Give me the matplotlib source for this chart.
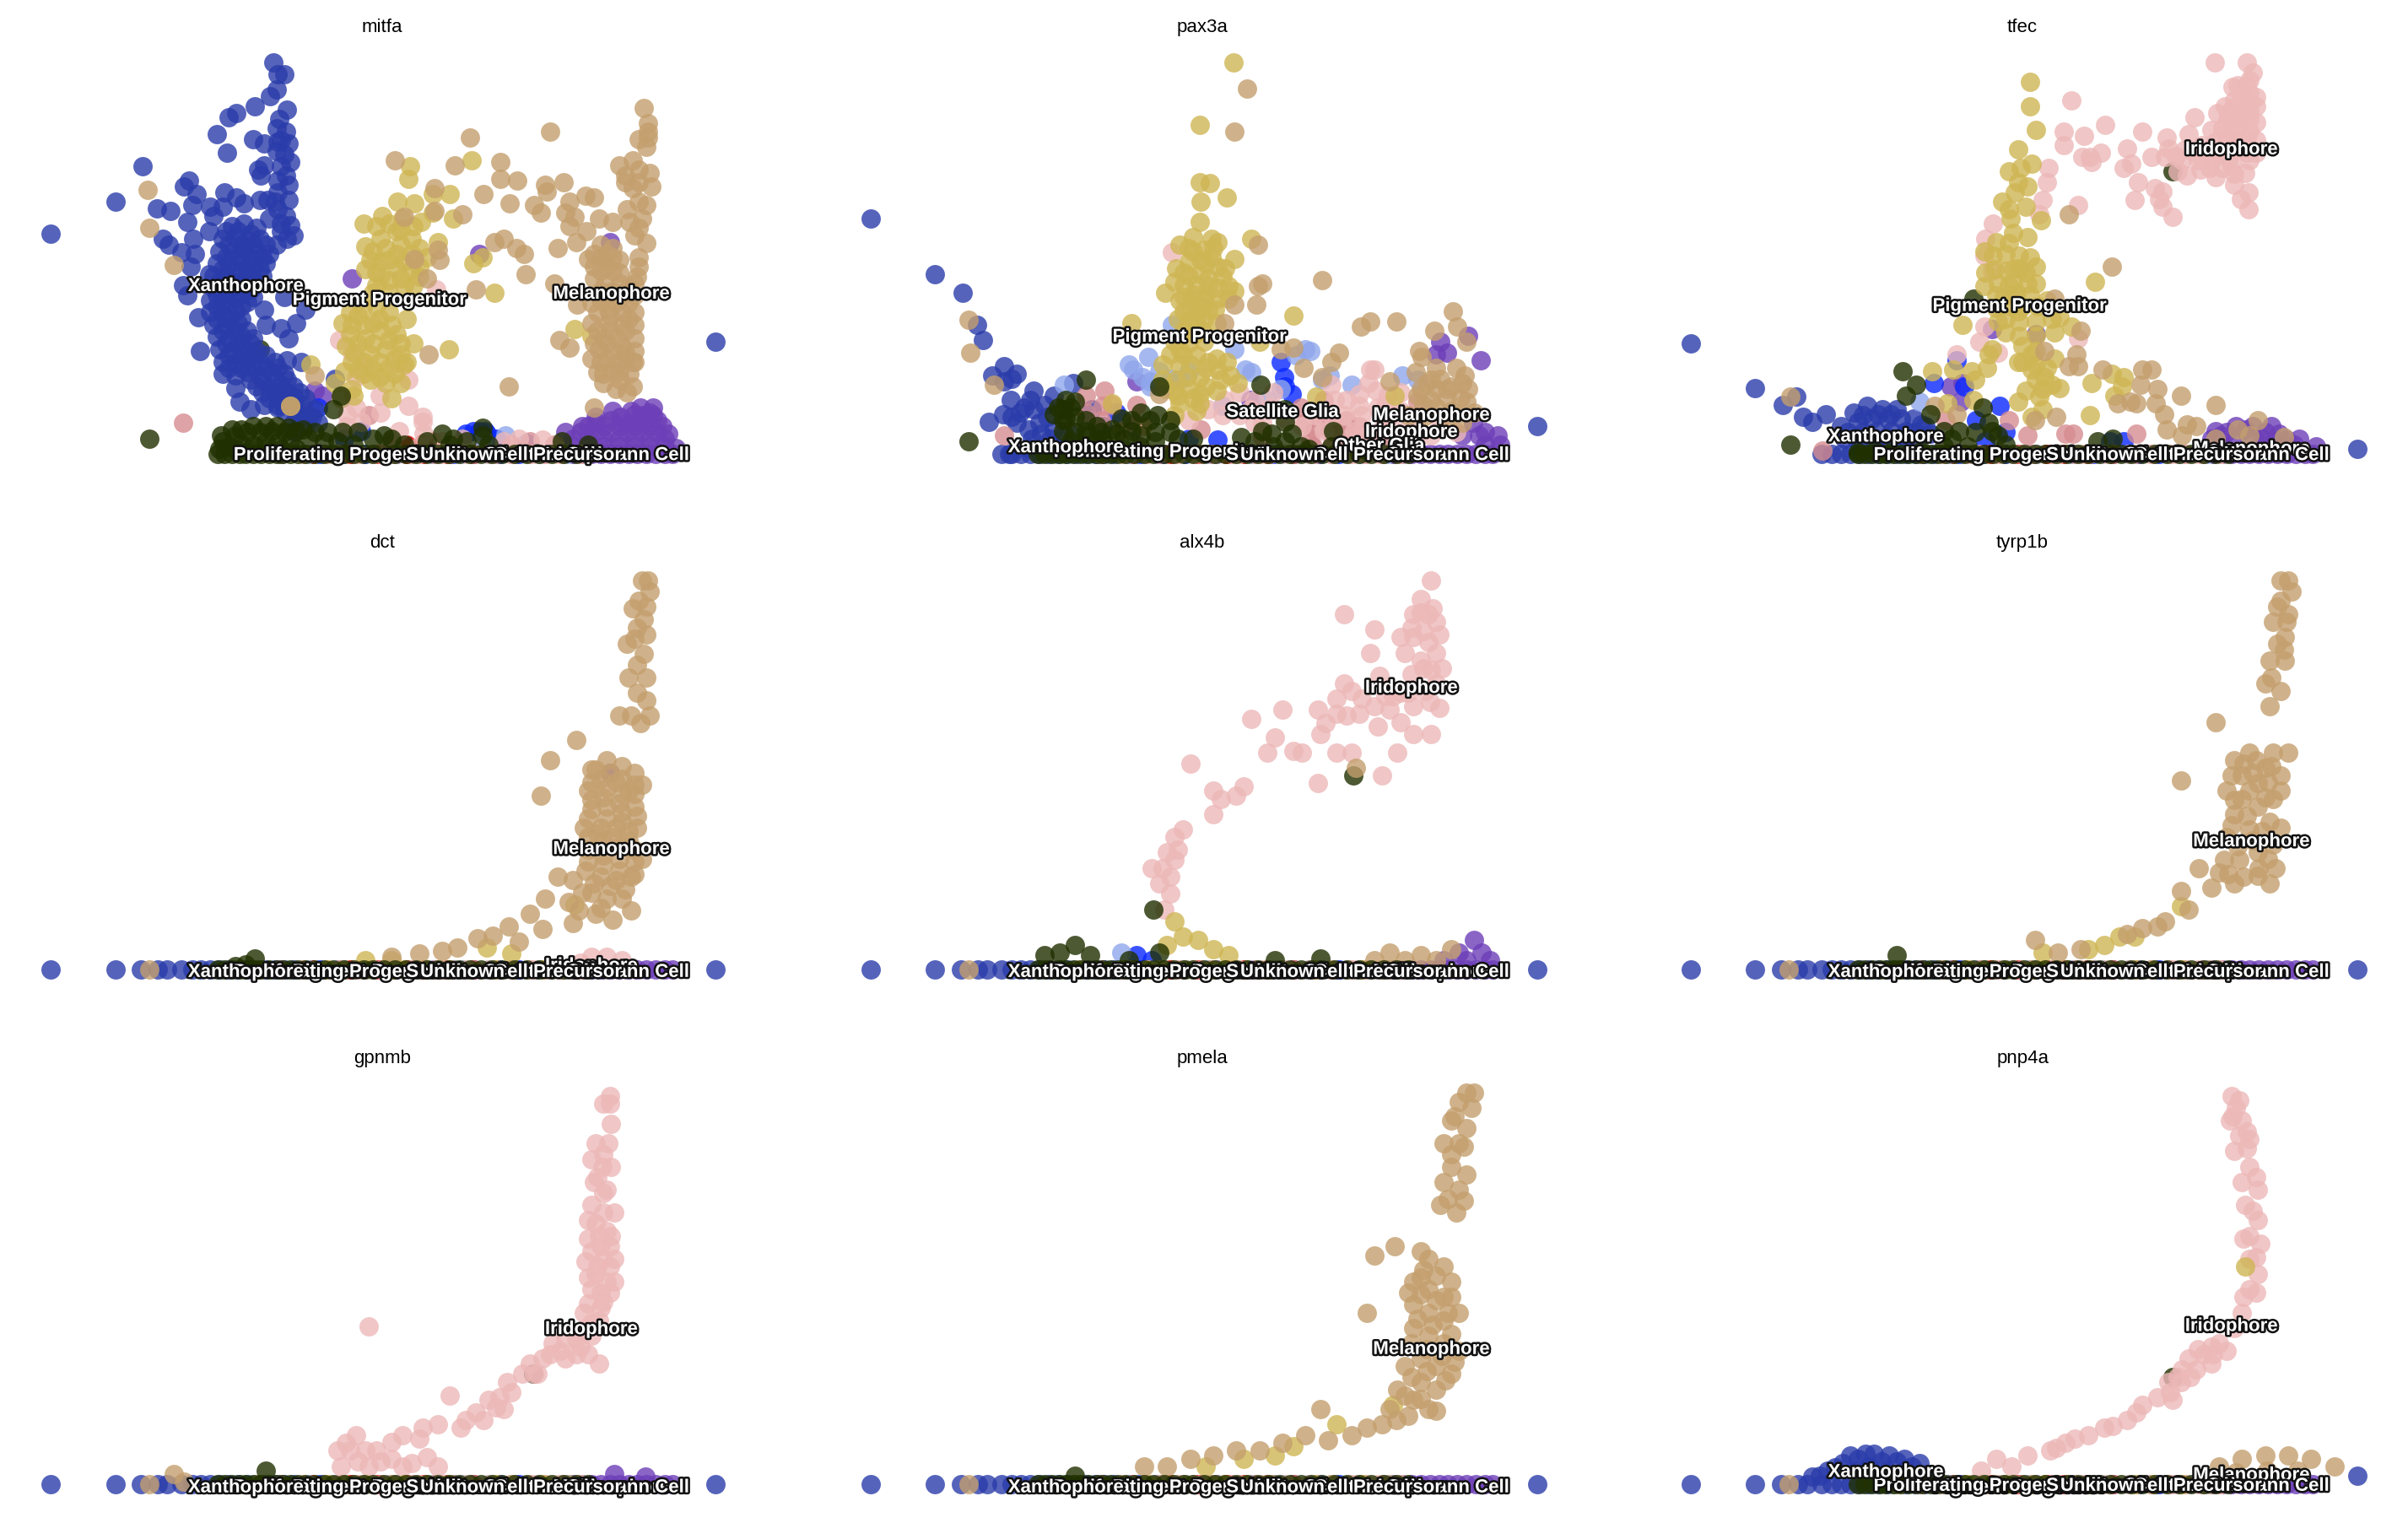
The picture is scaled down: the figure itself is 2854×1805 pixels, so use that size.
import matplotlib
matplotlib.use("Agg")
import matplotlib.pyplot as plt
import matplotlib.patheffects as pe

plt.rcParams['font.family'] = ['Liberation Sans', 'DejaVu Sans']

GENES = ["mitfa", "pax3a", "tfec", "dct", "alx4b", "tyrp1b", "gpnmb", "pmela", "pnp4a"]

# colours by cell type
COLORS = {
    "Schwann Cell": "#6D3FB8",
    "Satellite Glia": "#0A28FF",
    "Unknown": "#E00000",
    "Xanthophore": "#2A3CAA",
    "Other Glia": "#8FA6EC",
    "Schwann Cell Precursor": "#D68C90",
    "Iridophore": "#EDB8B8",
    "Pigment Progenitor": "#CFB654",
    "Melanophore": "#C49F6E",
    "Proliferating Progenitor": "#203000",
}

# cells sitting on the zero line, x only
ZERO_XAN_LEFT = [0, 42, 59, 70, 76]
ZERO_XAN = [85, 92, 98, 104, 110, 116, 122, 128, 134, 140, 146, 152, 158]
ZERO_PRO = [109, 113, 118, 123, 127, 132, 137, 142, 147, 151, 156, 161, 166, 172, 178, 184, 191, 197, 204, 210,
            217, 224, 231, 238, 245, 252, 259, 266, 273, 280, 287, 294, 302, 310, 318, 326, 334, 342, 350]
ZERO_SCH = [340, 346, 352, 358, 364, 370, 376, 382, 388, 394, 400, 405]
ZERO_SCP = [150, 164, 180, 188, 200, 215, 222, 235, 250, 260, 275, 290, 300, 312, 322, 333, 345]
ZERO_IRI = [200, 210, 225, 240, 255, 270, 285, 300, 315, 330, 345]
ZERO_UNK = [170, 195, 213, 232, 243, 258, 275]
ZERO_SAT = [150, 175, 190, 205, 225, 262, 275, 292, 305]
ZERO_OTH = [168, 186, 220, 248, 268, 285, 300, 318, 336]
ZERO_PIG = [135, 180, 205, 230, 260, 290, 320]
ZERO_MEL = [64, 190, 222, 245, 262, 300, 338]

# mitfa
MITFA_XAN = [(0, 143), (42, 164), (60, 187), (433, 73), (145, 255), (148, 247), (152, 247), (147, 237), (143, 233),
             (133, 226), (121, 222), (116, 219), (154, 224), (149, 218), (108, 208), (115, 196), (132, 205), (139, 202),
             (147, 212), (153, 210), (148, 203), (155, 202), (147, 197), (156, 190), (150, 187), (139, 188), (135, 185),
             (137, 181), (153, 181), (155, 175), (90, 178), (87, 174), (95, 169), (92, 162), (69, 160), (78, 158),
             (89, 151), (104, 161), (113, 170), (121, 167), (126, 163), (112, 161), (106, 155), (136, 165), (141, 165),
             (148, 159), (155, 165), (153, 155), (142, 153), (156, 149), (150, 145), (158, 142), (147, 136), (73, 140),
             (77, 136), (85, 131), (94, 130), (93, 140), (103, 145), (91, 122), (103, 117), (86, 110), (89, 103),
             (96, 89), (97, 67), (166, 94), (160, 85), (150, 82), (139, 94), (152, 102), (140, 84), (155, 75),
             (120, 43), (123, 34), (130, 29), (139, 32), (148, 30), (163, 60), (159, 31), (172, 29), (174, 20), (185, 49),
             (118, 148), (126, 150), (134, 147), (112, 140), (120, 141), (128, 139), (136, 140), (110, 132), (118, 131),
             (126, 133), (134, 131), (142, 130), (108, 124), (116, 123), (124, 125), (132, 123), (140, 124), (106, 116),
             (114, 115), (122, 117), (130, 115), (138, 116), (106, 108), (114, 107), (122, 109), (130, 107), (104, 100),
             (112, 99), (120, 101), (128, 99), (104, 92), (112, 91), (120, 93), (106, 84), (114, 83), (122, 85),
             (108, 76), (116, 75), (124, 77), (132, 75), (110, 68), (118, 67), (126, 69), (134, 67), (112, 60), (120, 59),
             (128, 61), (136, 59), (146, 60), (154, 61), (112, 52), (120, 51), (128, 53), (136, 51), (144, 53), (152, 52),
             (134, 44), (142, 43), (150, 45), (158, 44), (142, 36), (150, 35), (158, 37), (166, 36), (152, 28), (160, 27),
             (168, 24), (158, 20), (166, 19)]
MITFA_XAN += [(114, 145), (122, 145), (130, 143), (116, 136), (124, 136), (132, 136), (140, 136), (114, 128), (122, 128),
              (130, 128), (138, 128), (112, 120), (120, 120), (128, 120), (136, 120), (110, 112), (118, 112), (126, 112),
              (134, 112), (108, 104), (116, 104), (124, 104), (132, 102), (108, 96), (116, 96), (124, 96), (108, 88),
              (116, 88), (124, 88), (112, 80), (120, 80), (128, 80), (114, 72), (122, 72), (130, 72), (116, 64), (124, 64),
              (132, 64), (140, 64), (116, 56), (124, 56), (132, 56), (140, 56), (148, 56), (130, 48), (138, 48), (146, 48),
              (154, 48), (138, 40), (146, 40), (154, 40), (162, 40), (148, 32), (156, 32), (164, 32), (162, 24), (170, 24),
              (148, 178), (148, 170), (152, 195), (150, 204), (146, 164), (150, 150), (154, 140)]
MITFA_PIG = [(234, 187), (233, 179), (260, 169), (249, 169), (226, 164), (237, 163), (216, 155), (204, 150), (229, 153),
             (241, 151), (262, 153), (249, 157), (215, 140), (225, 145), (235, 140), (225, 130), (235, 130), (215, 125),
             (205, 120), (215, 115), (225, 120), (235, 120), (245, 128), (210, 105), (220, 105), (230, 110), (240, 115),
             (205, 135), (200, 90), (210, 85), (220, 92), (195, 78), (205, 75), (215, 80), (225, 78), (232, 88), (198, 66),
             (208, 65), (218, 68), (228, 65), (200, 55), (210, 55), (220, 56), (230, 58), (236, 72), (208, 48), (218, 46),
             (228, 46), (190, 85), (196, 42), (222, 36), (232, 60), (252, 138), (275, 124), (281, 128), (289, 105),
             (259, 68), (341, 81), (274, 191), (169, 58), (197, 38), (191, 54), (352, 77), (185, 46), (156, 31)]
MITFA_PIG += [(212, 148), (220, 150), (228, 146), (236, 148), (210, 132), (218, 134), (228, 136), (240, 134), (208, 126),
              (220, 126), (230, 125), (240, 122), (212, 118), (220, 113), (228, 114), (236, 110), (212, 110), (195, 92),
              (203, 95), (212, 96), (192, 70), (200, 72), (210, 72), (220, 74), (228, 72), (196, 60), (204, 60), (214, 60),
              (224, 62), (204, 52), (214, 50), (224, 52), (196, 84), (204, 84), (214, 88), (222, 84)]
MITFA_MEL = [(386, 225), (389, 215), (389, 210), (389, 206), (383, 205), (388, 200), (325, 210), (273, 206), (224, 191),
             (263, 188), (293, 190), (293, 179), (304, 178), (322, 175), (334, 177), (323, 171), (315, 162), (319, 157),
             (299, 163), (282, 169), (250, 173), (250, 158), (268, 156), (295, 140), (289, 138), (303, 134), (308, 130),
             (309, 117), (277, 107), (252, 133), (253, 126), (237, 127), (245, 114), (230, 154), (370, 188), (379, 191),
             (374, 181), (383, 185), (390, 183), (374, 177), (383, 177), (391, 174), (379, 173), (348, 168), (354, 167),
             (338, 164), (335, 157), (341, 154), (357, 153), (366, 151), (338, 148), (349, 145), (342, 138), (330, 134),
             (375, 159), (383, 164), (388, 162), (385, 153), (377, 151), (383, 147), (380, 142), (388, 137), (383, 128),
             (383, 122), (382, 115), (358, 136), (366, 134), (350, 127), (358, 128), (366, 128), (358, 119), (366, 119),
             (361, 111), (371, 111), (380, 111), (361, 103), (371, 101), (380, 103), (343, 97), (363, 94), (372, 92),
             (380, 92), (352, 85), (363, 85), (372, 84), (380, 84), (360, 75), (369, 75), (380, 75), (331, 74), (338, 69),
             (357, 68), (366, 67), (374, 66), (380, 67), (358, 60), (369, 59), (379, 60), (356, 53), (366, 54), (377, 52),
             (371, 48), (379, 44), (354, 30), (298, 44), (246, 65), (328, 111), (63, 172), (64, 147), (80, 123), (172, 51),
             (189, 36), (156, 31)]
MITFA_MEL += [(354, 130), (362, 130), (370, 126), (354, 122), (362, 122), (370, 118), (354, 114), (358, 106), (366, 106),
              (376, 108), (352, 98), (358, 100), (368, 98), (376, 98), (356, 92), (364, 90), (376, 88), (356, 80), (364, 80),
              (374, 80), (354, 72), (362, 72), (372, 70), (380, 60), (352, 62), (362, 62), (374, 62), (360, 52), (370, 54),
              (360, 46), (368, 42), (375, 40)]
MITFA_IRI = [(251, 107), (188, 74), (196, 66), (205, 57), (227, 59), (233, 48), (214, 38), (233, 31), (215, 27), (242, 24),
             (242, 21), (199, 50), (199, 30), (193, 26), (202, 21), (193, 18), (227, 15), (243, 13), (240, 5), (255, 8),
             (268, 10), (295, 8), (305, 10), (320, 9)]
MITFA_SCP = [(86, 20), (207, 25), (222, 8), (248, 8), (300, 6), (312, 8), (328, 6)]
MITFA_PRU = [(136, 68)]
MITFA_PRO = [(64, 10), (184, 29), (189, 38), (112, 8), (120, 12), (128, 14), (136, 14), (144, 15), (152, 14),
             (160, 15), (116, 5), (124, 6), (132, 6), (140, 8), (148, 7), (156, 8), (168, 10), (178, 8), (187, 8), (197, 6),
             (217, 12), (230, 6), (262, 10), (281, 12), (260, 6), (285, 6), (333, 8), (350, 6)]
MITFA_PRO += [(111, 12), (118, 16), (124, 16), (132, 18), (140, 18), (147, 18), (155, 17), (164, 16), (110, 3), (120, 3),
              (130, 3), (140, 3), (150, 3), (160, 3), (172, 14), (180, 14), (190, 14), (200, 14), (210, 10), (222, 10),
              (245, 8), (255, 13), (271, 8), (281, 17)]
MITFA_SCH = [(390, 27), (380, 26), (371, 24), (355, 21), (346, 18), (335, 14), (398, 18), (402, 13), (407, 4), (340, 10),
             (350, 10), (360, 10), (370, 10), (380, 10), (390, 10), (400, 10), (350, 18), (360, 18), (370, 18), (380, 18),
             (390, 18), (385, 25), (392, 25), (172, 41), (177, 38), (196, 114), (279, 130), (364, 138)]
MITFA_SCH += [(345, 14), (355, 14), (365, 14), (375, 14), (385, 14), (395, 14), (340, 5), (350, 5), (360, 5), (370, 5),
              (380, 5), (390, 5), (400, 5), (355, 24), (365, 22), (375, 20), (385, 20), (395, 22), (392, 30), (384, 30),
              (378, 28), (366, 28)]
MITFA_SAT = [(158, 15), (174, 30), (202, 15), (191, 10), (279, 15), (270, 13), (284, 13), (275, 15), (283, 15), (290, 10)]
MITFA_OTH = [(296, 12), (282, 9), (310, 7)]
MITFA_UNK = [(243, 7), (232, 6), (248, 4)]

# pax3a
PAX3A_XAN = [(0, 153), (42, 117), (60, 105), (69, 84), (73, 74), (87, 57), (79, 51), (95, 52), (92, 49), (87, 47), (77, 21),
             (91, 35), (86, 26), (92, 24), (97, 27), (106, 41), (104, 35), (113, 32), (106, 29), (119, 38), (103, 16),
             (111, 13), (119, 16), (90, 0), (103, 4), (113, 2), (119, 6), (132, 46), (151, 18), (144, 29), (434, 18),
             (132, 12), (125, 2), (138, 4), (110, 20), (117, 10), (125, 12), (105, 10), (95, 20), (100, 30), (115, 24)]
PAX3A_OTH = [(126, 45), (168, 58), (171, 55), (181, 63), (177, 50), (188, 54), (196, 84), (182, 47), (195, 49), (237, 68),
             (244, 55), (248, 53), (283, 68), (286, 67), (299, 51), (294, 48), (313, 45), (267, 42), (346, 51), (356, 48),
             (182, 44), (143, 22), (229, 31), (258, 35), (277, 64), (207, 54), (201, 48)]
PAX3A_PIG = [(236, 255), (214, 214), (214, 177), (221, 176), (232, 167), (215, 164), (214, 151), (248, 140), (201, 136),
             (222, 140), (226, 138), (210, 141), (207, 134), (217, 133), (223, 134), (237, 127), (231, 121), (199, 121),
             (207, 125), (215, 126), (222, 128), (207, 116), (215, 117), (229, 115), (192, 105), (204, 110), (212, 110),
             (220, 109), (233, 109), (237, 106), (201, 100), (209, 101), (217, 101), (226, 101), (233, 101), (204, 93),
             (212, 93), (220, 94), (207, 87), (217, 88), (170, 85), (275, 90), (253, 73), (198, 73), (207, 72), (217, 73),
             (195, 65), (203, 65), (212, 64), (225, 62), (190, 58), (201, 58), (226, 55), (234, 51), (239, 46), (214, 50),
             (207, 42), (198, 41), (214, 39), (225, 41), (201, 33), (198, 25), (214, 33), (157, 33), (290, 37), (341, 38)]
PAX3A_PIG += [(210, 132), (218, 124), (204, 118), (220, 114), (226, 122), (198, 112), (210, 104), (218, 104), (226, 108),
              (204, 102), (212, 86), (204, 80), (216, 80), (208, 96), (216, 96), (224, 94), (200, 88), (225, 85), (211, 78),
              (201, 68), (208, 58), (218, 56), (206, 50), (199, 48), (190, 48), (220, 60), (232, 60), (200, 38), (210, 36),
              (218, 44), (228, 48), (192, 42), (212, 28)]
PAX3A_MEL = [(245, 238), (237, 210), (252, 136), (255, 111), (252, 109), (294, 113), (251, 97), (237, 97), (325, 86),
             (319, 83), (342, 86), (379, 93), (367, 80), (382, 83), (388, 73), (305, 66), (300, 60), (282, 56), (294, 50),
             (267, 68), (275, 69), (64, 87), (65, 66), (80, 45), (188, 39), (177, 18), (230, 85), (357, 67), (359, 63),
             (355, 53), (368, 56), (362, 46), (371, 49), (381, 56), (387, 51), (368, 42), (378, 44), (389, 42), (375, 36),
             (384, 36), (365, 35), (356, 38), (338, 47), (393, 27), (375, 24), (385, 20), (360, 24), (365, 48), (375, 42),
             (385, 46), (358, 42), (368, 30), (378, 28), (388, 34), (360, 32), (350, 25)]
PAX3A_IRI = [(328, 55), (324, 46), (329, 41), (318, 39), (337, 38), (302, 35), (318, 31), (308, 25), (247, 29), (240, 25),
             (250, 20), (220, 29), (229, 25), (207, 22), (196, 131), (289, 25), (281, 18), (270, 23), (333, 16), (346, 14),
             (365, 12), (381, 14), (324, 12), (310, 35), (320, 25), (330, 30), (340, 25), (300, 25), (295, 15), (315, 15),
             (335, 24), (345, 28), (355, 18), (370, 20), (230, 35), (240, 40), (250, 35), (260, 30), (255, 20), (262, 40),
             (345, 40), (335, 32), (325, 55), (300, 45)]
PAX3A_SCP = [(140, 38), (152, 41), (140, 27), (151, 31), (173, 32), (157, 32), (87, 12), (177, 18), (289, 16), (299, 14),
             (286, 10), (308, 12), (255, 11), (215, 16), (356, 34), (150, 22), (163, 15), (172, 20), (295, 25), (280, 30),
             (295, 35), (310, 22), (318, 18), (330, 12), (283, 20), (294, 28), (300, 20), (288, 5), (300, 5), (315, 5),
             (320, 8), (340, 8)]
PAX3A_PRO = [(140, 48), (64, 8), (125, 29), (119, 26), (127, 23), (133, 14), (141, 12), (151, 9), (163, 23), (157, 16),
             (176, 27), (188, 44), (187, 25), (195, 14), (176, 12), (254, 45), (270, 29), (270, 21), (261, 13), (241, 11),
             (301, 15), (274, 13), (127, 35), (122, 30), (130, 30), (133, 34), (125, 22), (133, 24), (140, 22), (147, 18),
             (147, 9), (160, 13), (170, 22), (182, 22), (185, 14), (195, 22), (175, 5), (150, 3), (165, 3), (280, 5), (262, 5),
             (125, 15), (130, 8), (140, 15), (150, 14), (165, 10), (170, 15), (185, 8), (200, 10), (210, 10), (250, 8),
             (270, 8), (255, 15), (285, 3), (300, 5), (320, 3)]
PAX3A_SAT = [(267, 60), (269, 50), (270, 44), (274, 39), (160, 27), (226, 9), (207, 10)]
PAX3A_SCH = [(371, 73), (375, 66), (368, 65), (389, 77), (397, 61), (400, 14), (408, 12), (400, 6), (173, 47), (247, 35),
             (173, 17), (392, 20), (396, 12), (385, 12), (410, 6)]

# tfec
TFEC_IRI = [(341, 255), (362, 255), (366, 248), (364, 243), (353, 239), (364, 235), (358, 233), (248, 230), (361, 227),
            (352, 224), (364, 224), (343, 222), (328, 219), (356, 219), (364, 218), (349, 215), (339, 211), (356, 212),
            (364, 210), (270, 214), (243, 210), (256, 207), (243, 201), (294, 210), (324, 208), (310, 206), (311, 199),
            (284, 199), (267, 196), (260, 193), (255, 193), (261, 190), (300, 193), (287, 189), (282, 186), (309, 193),
            (320, 191), (330, 191), (339, 191), (349, 197), (356, 197), (364, 191), (352, 187), (361, 183), (342, 180),
            (332, 185), (323, 181), (291, 177), (302, 173), (307, 171), (354, 175), (363, 170), (358, 166), (363, 159),
            (289, 165), (305, 166), (307, 161), (314, 154), (252, 162), (233, 186), (232, 177), (229, 165), (227, 156),
            (197, 150), (192, 140), (191, 129), (196, 119), (342, 203), (349, 206), (356, 204), (333, 201), (191, 83),
            (188, 73), (200, 66), (173, 65), (252, 75), (317, 184)]
TFEC_IRI += [(356, 240), (362, 240), (368, 232), (354, 230), (348, 226), (368, 226), (356, 226), (358, 218), (350, 220),
             (368, 216), (346, 212), (352, 208), (362, 206), (368, 204), (356, 200), (344, 196), (350, 192), (362, 196),
             (340, 198), (346, 186), (354, 182), (338, 186), (328, 196), (322, 198), (316, 194), (368, 196)]
TFEC_PIG = [(221, 242), (221, 226), (225, 211), (213, 198), (222, 189), (207, 184), (215, 186), (213, 177), (219, 174),
            (211, 170), (203, 164), (207, 159), (218, 161), (208, 153), (228, 152), (219, 141), (210, 144), (199, 138),
            (207, 137), (191, 132), (197, 129), (205, 130), (214, 129), (225, 122), (221, 128), (213, 121), (192, 118),
            (205, 119), (191, 109), (200, 111), (210, 112), (219, 111), (225, 111), (263, 112), (199, 103), (210, 104),
            (221, 103), (232, 100), (177, 84), (205, 88), (214, 86), (225, 86), (240, 89), (248, 83), (237, 79), (205, 79),
            (214, 77), (225, 77), (216, 70), (225, 67), (196, 68), (194, 65), (213, 60), (237, 62), (222, 55), (232, 56),
            (193, 56), (157, 54), (171, 55), (183, 54), (185, 48), (225, 48), (235, 45), (240, 43), (229, 42), (218, 41),
            (213, 34), (227, 37), (261, 46), (274, 52), (282, 50), (276, 38), (281, 44), (260, 25), (222, 24), (229, 29),
            (167, 33), (184, 35)]
TFEC_PIG += [(198, 120), (210, 120), (218, 118), (207, 110), (199, 95), (208, 96), (216, 96), (226, 96), (212, 105),
             (204, 102), (215, 120), (200, 86), (213, 93), (235, 88), (216, 60), (222, 65), (230, 50), (225, 58)]
TFEC_MEL = [(274, 122), (246, 156), (237, 101), (254, 80), (230, 67), (251, 65), (246, 57), (252, 57), (268, 55), (294, 55),
            (300, 55), (293, 45), (304, 42), (319, 38), (342, 32), (278, 33), (286, 34), (290, 33), (303, 33), (308, 26),
            (310, 16), (323, 19), (329, 18), (369, 22), (356, 16), (364, 12), (386, 11), (238, 24), (224, 22), (65, 37),
            (173, 26), (159, 31), (320, 12), (342, 10)]
TFEC_XAN = [(0, 72), (42, 43), (69, 37), (60, 32), (73, 24), (79, 21), (88, 26), (434, 3), (106, 27), (115, 31), (125, 29),
            (134, 29), (98, 18), (109, 21), (118, 23), (128, 23), (137, 23), (145, 23), (102, 14), (112, 14), (121, 15),
            (131, 15), (140, 15), (150, 19), (156, 13), (110, 4), (120, 7), (129, 7), (139, 8), (148, 9), (112, 25),
            (122, 26), (130, 26), (108, 10), (118, 11), (128, 11), (138, 11), (146, 14), (100, 10), (153, 18)]
TFEC_PRU = [(314, 184), (184, 101)]
TFEC_PRO = [(138, 54), (147, 45), (140, 38), (65, 6), (190, 30), (194, 20), (175, 15), (200, 12), (109, 1),
            (156, 26), (165, 15), (170, 10), (185, 14), (196, 15), (205, 6), (120, 2), (130, 1), (150, 2),
            (165, 5), (180, 5), (275, 10), (265, 8)]
TFEC_SAT = [(173, 61), (158, 46), (178, 44), (201, 31), (186, 22), (205, 14), (192, 8), (273, 8), (282, 8)]
TFEC_SCH = [(169, 44), (177, 46), (176, 34), (196, 81), (225, 78), (342, 15), (349, 14), (361, 16), (374, 14), (383, 13),
            (396, 10), (407, 5), (339, 10), (367, 10), (380, 8), (393, 6), (345, 12), (355, 10), (372, 10), (388, 9),
            (355, 18), (366, 18), (378, 18)]
TFEC_OTH = [(149, 34)]
TFEC_SCP = [(86, 2), (207, 22), (244, 13), (249, 13), (290, 13), (219, 12), (166, 22)]

# dct
DCT_MEL = [(389, 253), (385, 253), (390, 246), (383, 240), (388, 236), (379, 235), (386, 228), (382, 222), (388, 218),
           (380, 215), (375, 212), (386, 205), (382, 198), (376, 190), (388, 190), (382, 180), (388, 175), (370, 165),
           (378, 165), (384, 160), (390, 165), (342, 149), (325, 136), (319, 113), (362, 136), (352, 130), (372, 132),
           (380, 128), (385, 120), (358, 124), (368, 122), (376, 116), (350, 116), (360, 112), (370, 108), (380, 106),
           (352, 104), (362, 98), (372, 96), (347, 92), (356, 88), (366, 86), (376, 84), (382, 92), (350, 78), (360, 74),
           (370, 72), (380, 70), (348, 64), (358, 60), (368, 58), (378, 60), (385, 72), (352, 50), (362, 46), (372, 46),
           (340, 58), (330, 60), (344, 38), (355, 36), (366, 32), (322, 46), (337, 44), (312, 36), (320, 26), (298, 28),
           (288, 22), (305, 18), (278, 20), (265, 14), (255, 12), (240, 10), (222, 8), (340, 30)]
DCT_MEL += [(355, 130), (364, 128), (372, 124), (380, 120), (352, 122), (362, 118), (372, 114), (380, 114), (352, 110),
            (362, 106), (372, 102), (382, 100), (350, 98), (358, 92), (368, 92), (376, 90), (350, 86), (360, 84), (370, 80),
            (380, 78), (350, 70), (360, 68), (370, 64), (380, 62), (354, 56), (364, 54), (374, 52), (346, 50), (358, 40),
            (378, 38)]
DCT_PIG = [(341, 42), (284, 14), (222, 6), (205, 6), (300, 10)]
DCT_IRI = [(352, 8), (345, 4), (362, 8), (372, 6)]
DCT_PRO = [(133, 7), (127, 3), (120, 2)]
DCT_SCH = [(364, 128)]
DCT_XAN = [(433, 0)]

# alx4b
ALX4B_IRI = [(365, 253), (358, 241), (363, 231), (353, 231), (368, 226), (308, 231), (328, 221), (353, 216), (363, 213),
             (348, 206), (368, 206), (358, 201), (325, 206), (308, 186), (303, 176), (313, 181), (331, 191), (328, 171),
             (303, 166), (318, 166), (338, 169), (353, 171), (361, 181), (368, 186), (345, 161), (268, 169), (248, 163),
             (291, 169), (293, 153), (263, 151), (258, 141), (281, 141), (303, 141), (313, 141), (333, 126), (291, 121),
             (208, 134), (365, 153), (353, 153), (343, 141), (228, 111), (238, 113), (223, 101), (243, 119), (203, 91),
             (198, 86), (193, 76), (183, 66), (198, 71), (188, 56), (195, 49), (191, 39), (223, 116), (360, 196),
             (352, 192), (364, 174), (345, 180), (330, 158), (358, 232), (366, 235), (370, 218), (360, 220), (352, 222),
             (345, 216), (365, 195), (372, 196), (350, 180), (340, 178), (320, 176), (310, 165), (335, 178), (296, 160),
             (275, 142), (370, 170), (195, 60), (190, 66), (200, 78)]
ALX4B_PRU = [(314, 126)]
ALX4B_PRO = [(184, 39), (133, 16), (113, 9), (123, 11), (143, 9), (168, 6), (188, 11), (263, 6), (293, 7)]
ALX4B_PIG = [(198, 31), (203, 21), (213, 19), (193, 16), (223, 13), (233, 9)]
ALX4B_SAT = [(173, 9), (183, 6)]
ALX4B_SCH = [(393, 19), (383, 11), (398, 11), (373, 6), (388, 6), (403, 6)]
ALX4B_MEL = [(338, 11), (358, 9), (378, 13), (348, 6), (368, 6), (328, 6), (316, 131)]
ALX4B_OTH = [(163, 11)]
ALX4B_XAN = [(434, 0)]

# tyrp1b
TYRP1B_MEL = [(389, 253), (384, 253), (391, 246), (382, 236), (389, 231), (379, 226), (387, 216), (377, 201), (387, 201),
              (374, 186), (384, 181), (377, 171), (342, 161), (319, 123), (389, 141), (379, 141), (364, 141), (354, 136),
              (374, 131), (384, 126), (359, 126), (369, 121), (349, 116), (379, 111), (359, 111), (369, 106), (354, 101),
              (377, 96), (364, 91), (349, 86), (379, 81), (369, 76), (357, 71), (347, 71), (381, 66), (369, 61), (344, 63),
              (354, 56), (377, 56), (331, 66), (339, 53), (319, 51), (324, 39), (304, 28), (294, 27), (309, 31), (284, 23),
              (224, 19), (239, 11), (254, 13), (368, 136), (378, 132), (360, 134), (352, 126), (366, 128), (376, 122),
              (354, 110), (364, 116), (374, 112), (384, 116), (352, 94), (362, 100), (372, 90), (384, 92), (356, 80),
              (366, 84), (376, 72), (360, 60), (370, 66), (350, 62), (384, 240), (388, 226), (382, 212), (378, 190), (386, 208)]
TYRP1B_PIG = [(319, 41), (289, 21), (279, 21), (259, 13), (269, 16), (229, 11)]
TYRP1B_PRO = [(134, 9)]
TYRP1B_XAN = [(434, 0)]

# gpnmb
GPNMB_IRI = [(364, 253), (360, 248), (364, 248), (355, 222), (363, 222), (352, 212), (359, 207), (365, 207), (354, 197),
             (362, 192), (352, 182), (360, 177), (367, 177), (350, 172), (357, 162), (365, 162), (352, 152), (360, 147),
             (367, 147), (355, 137), (362, 132), (367, 132), (352, 127), (360, 119), (347, 112), (357, 107), (352, 97),
             (342, 95), (327, 92), (332, 87), (342, 85), (357, 79), (320, 82), (312, 79), (307, 72), (297, 67), (292, 57),
             (285, 55), (295, 49), (277, 47), (260, 58), (282, 42), (267, 37), (252, 39), (242, 37), (229, 32), (207, 103),
             (199, 32), (192, 27), (187, 22), (195, 22), (212, 22), (222, 17), (229, 12), (189, 12), (207, 12), (252, 12),
             (356, 200), (360, 190), (355, 170), (362, 165), (350, 160), (358, 155), (364, 155), (348, 145), (356, 142),
             (364, 142), (350, 135), (358, 125), (350, 118), (358, 115), (364, 125), (352, 105), (346, 100), (345, 90),
             (335, 95), (335, 82), (350, 85), (325, 85), (315, 72), (300, 60), (290, 50), (270, 42), (240, 30), (222, 28),
             (205, 22), (200, 15), (215, 15), (235, 14), (245, 18), (365, 235), (360, 215), (317, 72)]
GPNMB_PRU = [(314, 72)]
GPNMB_PRO = [(140, 9)]
GPNMB_MEL = [(80, 7), (87, 2)]
GPNMB_SCH = [(367, 7), (387, 5)]
GPNMB_XAN = [(433, 0)]

# pmela
PMELA_MEL = [(388, 255), (393, 255), (383, 249), (391, 245), (378, 237), (388, 232), (373, 222), (383, 222), (378, 207),
             (388, 202), (373, 197), (383, 192), (371, 182), (381, 177), (328, 149), (323, 112), (341, 155), (358, 152),
             (363, 147), (373, 142), (378, 132), (353, 132), (363, 127), (373, 122), (353, 117), (363, 112), (373, 107),
             (383, 112), (353, 102), (363, 97), (373, 92), (383, 87), (358, 82), (368, 77), (378, 72), (348, 77), (358, 67),
             (368, 62), (343, 62), (353, 55), (363, 49), (338, 49), (333, 39), (323, 37), (293, 49), (313, 32), (298, 29),
             (283, 32), (268, 27), (253, 22), (238, 22), (223, 19), (208, 17), (193, 12), (178, 12), (360, 140), (368, 136),
             (378, 122), (358, 124), (368, 120), (376, 112), (356, 108), (366, 104), (378, 98), (352, 92), (362, 88), (372, 84),
             (380, 80), (352, 70), (362, 74), (374, 68), (348, 58), (358, 56), (368, 48), (350, 45), (342, 42), (380, 240),
             (386, 220), (378, 215), (376, 186), (358, 135), (350, 125), (386, 185)]
PMELA_PIG = [(340, 52), (303, 39), (275, 25), (263, 19), (243, 17), (218, 12)]
PMELA_PRO = [(133, 6)]
PMELA_XAN = [(434, 0)]

# pnp4a
PNP4A_IRI = [(352, 253), (355, 245), (359, 237), (351, 237), (357, 227), (362, 219), (354, 217), (364, 207), (359, 197),
             (369, 192), (361, 182), (369, 172), (364, 162), (371, 157), (364, 147), (369, 137), (364, 127), (359, 112),
             (354, 102), (344, 92), (349, 87), (334, 85), (324, 82), (339, 79), (329, 75), (319, 67), (311, 67), (304, 57),
             (294, 52), (314, 55), (284, 42), (269, 37), (259, 32), (244, 27), (234, 22), (219, 19), (199, 17), (189, 9),
             (209, 12), (357, 250), (353, 240), (362, 230), (364, 225), (368, 200), (366, 178), (360, 160), (368, 148),
             (368, 125), (360, 122), (339, 90), (330, 88), (320, 75), (325, 70), (340, 85), (312, 60), (290, 47), (275, 38),
             (250, 30), (238, 24), (317, 70)]
PNP4A_PIG = [(361, 142)]
PNP4A_XAN = [(434, 6), (109, 17), (119, 20), (129, 19), (139, 17), (149, 14), (99, 14), (89, 9), (79, 5), (109, 9), (124, 9),
             (139, 9), (154, 7), (104, 19), (114, 20), (124, 15), (134, 15), (144, 12), (94, 11), (84, 6), (116, 12)]
PNP4A_MEL = [(359, 17), (374, 19), (389, 19), (404, 17), (344, 12), (419, 12), (355, 8), (375, 9), (395, 9)]
PNP4A_PRU = [(314, 70)]

# label positions, heights listed in the same order as GENES
LABEL_X = {"Pigment Progenitor": 214, "Melanophore": 365, "Iridophore": 352, "Other Glia": 331, "Satellite Glia": 268,
           "Proliferating Progenitor": 187.5, "Xanthophore": 127, "Schwann Cell": 376, "Schwann Cell Precursor": 301.5,
           "Unknown": 268}
LABEL_Y_PIG = [100, 76, 96, -2, -2, -2, -2, -2, -2]
LABEL_Y_MEL = [104, 25, 3, 78, -2, 83, -2, 88, 6]
LABEL_Y_IRI = [-1, 14, 198, 2, 183, -2, 101, -2, 103]
LABEL_Y_OTH = [-1, 5, -1, -2, -2, -2, -2, -2, -1]
LABEL_Y_SAT = [-1, 27, -1, -2, -2, -2, -2, -2, -1]
LABEL_Y_PRO = [-1, 1, -1, -2, -2, -2, -2, -2, -1]
LABEL_Y_XAN = [109, 4, 11, -2, -2, -2, -2, -2, 8]
LABEL_Y_SCH = [-1, -1, -1, -2, -2, -2, -2, -2, -1]
LABEL_Y_SCP = [-1, -1, -1, -2, -2, -2, -2, -2, -1]
LABEL_Y_UNK = [-1, -1, -1, -2, -2, -2, -2, -2, -1]
LABEL_ROWS = [("Pigment Progenitor", LABEL_Y_PIG), ("Melanophore", LABEL_Y_MEL), ("Iridophore", LABEL_Y_IRI),
              ("Other Glia", LABEL_Y_OTH), ("Satellite Glia", LABEL_Y_SAT), ("Proliferating Progenitor", LABEL_Y_PRO),
              ("Xanthophore", LABEL_Y_XAN), ("Schwann Cell", LABEL_Y_SCH), ("Schwann Cell Precursor", LABEL_Y_SCP),
              ("Unknown", LABEL_Y_UNK)]

ZEROS = {"Schwann Cell": ZERO_SCH, "Satellite Glia": ZERO_SAT, "Unknown": ZERO_UNK, "Xanthophore": ZERO_XAN_LEFT + ZERO_XAN,
         "Other Glia": ZERO_OTH, "Schwann Cell Precursor": ZERO_SCP, "Iridophore": ZERO_IRI,
         "Pigment Progenitor": ZERO_PIG, "Melanophore": ZERO_MEL, "Proliferating Progenitor": ZERO_PRO}

SHORT = {"XAN": "Xanthophore", "PIG": "Pigment Progenitor", "MEL": "Melanophore", "IRI": "Iridophore",
         "PRO": "Proliferating Progenitor", "SCH": "Schwann Cell", "SCP": "Schwann Cell Precursor",
         "SAT": "Satellite Glia", "OTH": "Other Glia", "UNK": "Unknown"}

ALL_TYPES = list(COLORS)
ROW1_ZERO = ["Schwann Cell", "Satellite Glia", "Unknown", "Other Glia", "Schwann Cell Precursor", "Iridophore",
             "Proliferating Progenitor"]

zero_types = {"mitfa": ROW1_ZERO, "pax3a": ROW1_ZERO, "tfec": ROW1_ZERO}

def get_cells(gene, cell_type):
    short = [k for k, v in SHORT.items() if v == cell_type][0]
    extra = globals().get(f"{gene.upper()}_{short}", [])
    xs = [p[0] for p in extra]
    ys = [p[1] for p in extra]
    if cell_type in zero_types.get(gene, ALL_TYPES):
        xs += ZEROS[cell_type]
        ys += [0] * len(ZEROS[cell_type])
    elif gene != "mitfa" and cell_type == "Xanthophore":
        xs += ZERO_XAN
        ys += [0] * len(ZERO_XAN)
    return xs, ys

fig, axes = plt.subplots(3, 3, figsize=(14.27, 9.03))
plt.subplots_adjust(left=0.00542, right=0.9933, top=0.9718, bottom=0.0121, wspace=0.11, hspace=0.194)

for i, (gene, ax) in enumerate(zip(GENES, axes.flat)):
    # proliferating cells that end up underneath everything else
    under = globals().get(f"{gene.upper()}_PRU", [])
    if under:
        ax.scatter([p[0] for p in under], [p[1] for p in under], s=68,
                   color=COLORS["Proliferating Progenitor"], alpha=0.8, linewidths=0, clip_on=False)
    for cell_type in ALL_TYPES:
        xs, ys = get_cells(gene, cell_type)
        ax.scatter(xs, ys, s=68, color=COLORS[cell_type], alpha=0.8, linewidths=0, clip_on=False)
    for name, heights in LABEL_ROWS:
        ax.text(LABEL_X[name], heights[i], name, fontsize=8, fontweight='bold', color='white',
                ha='center', va='center',
                path_effects=[pe.withStroke(linewidth=1.8, foreground='#111111')])
    ax.set_xlim(-24.5, 456.5)
    ax.set_ylim(-13, 268)
    ax.set_title(gene, fontsize=8, pad=4.7)
    ax.axis('off')

fig.savefig("out.png", dpi=200)
